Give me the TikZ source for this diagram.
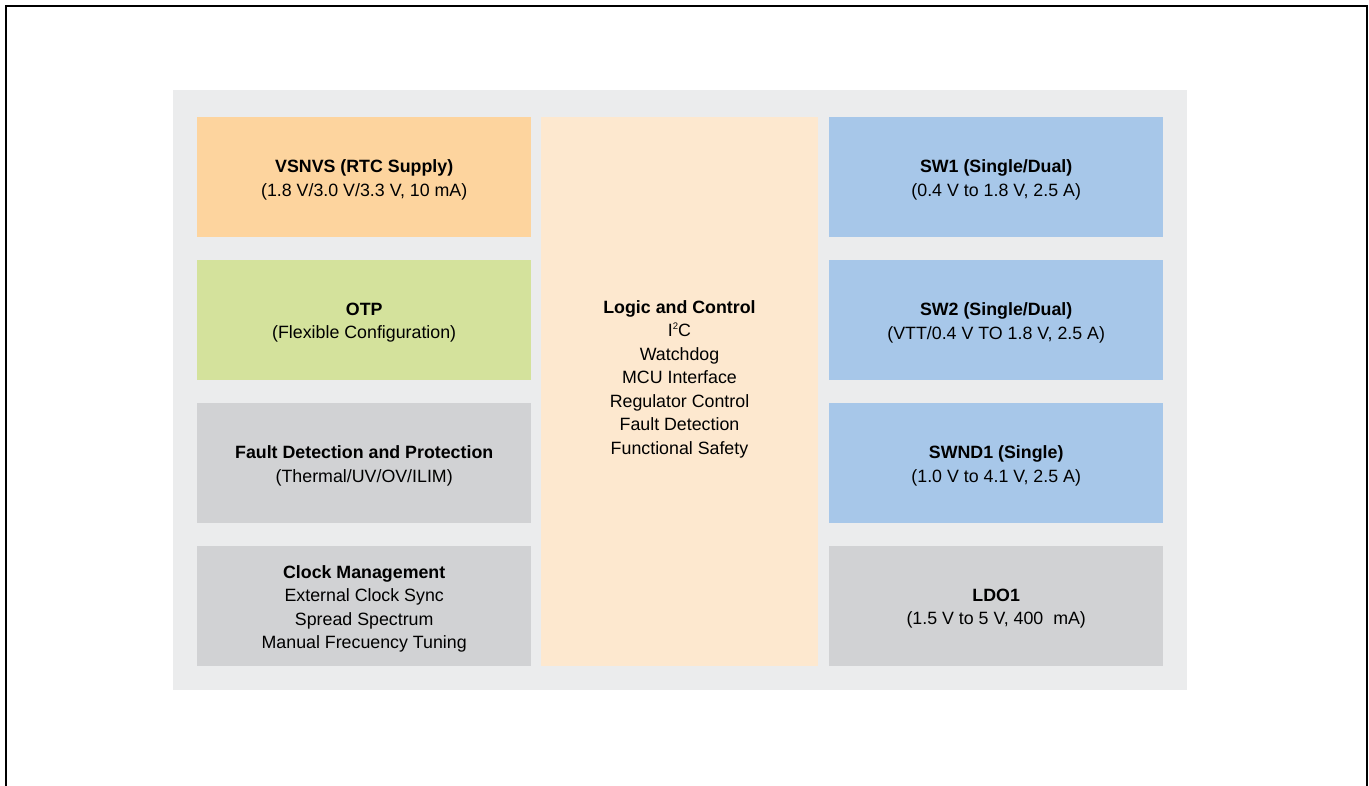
\documentclass[tikz,border=0pt]{standalone}
\usepackage{fontspec}
\setmainfont{Liberation Sans}
\definecolor{bgGray}{HTML}{EBECED}
\definecolor{cOrange}{HTML}{FDD49E}
\definecolor{cGreen}{HTML}{D4E29C}
\definecolor{cGray}{HTML}{D1D2D4}
\definecolor{cBlue}{HTML}{A7C7E9}
\definecolor{cCream}{HTML}{FDE8CF}
\begin{document}
\begin{tikzpicture}[x=1pt,y=-1pt,
  blockbox/.style={draw=none,inner sep=0pt,minimum width=334pt,minimum height=120pt,anchor=north west},
  txt/.style={align=center,inner sep=0pt,yshift=-2.5pt,font=\fontsize{17.8}{23.5}\selectfont,text=black}]
\useasboundingbox (0,0) rectangle (1369,786);
\fill[white] (0,0) rectangle (1369,786);
\draw[line width=2.5pt,black] (6,786) -- (6,6) -- (1367,6) -- (1367,786);
\fill[bgGray] (173,90) rectangle (1187,690);
% left column
\node[blockbox,fill=cOrange] (vsnvs) at (197,117) {};
\node[blockbox,fill=cGreen] (otp) at (197,260) {};
\node[blockbox,fill=cGray] (fault) at (197,403) {};
\node[blockbox,fill=cGray] (clock) at (197,546) {};
% middle
\node[draw=none,inner sep=0pt,minimum width=277pt,minimum height=549pt,anchor=north west,fill=cCream] (logic) at (541,117) {};
% right column
\node[blockbox,fill=cBlue] (sw1) at (829,117) {};
\node[blockbox,fill=cBlue] (sw2) at (829,260) {};
\node[blockbox,fill=cBlue] (swnd) at (829,403) {};
\node[blockbox,fill=cGray] (ldo) at (829,546) {};
% texts
\node[txt] (tvsnvs) at (vsnvs.center) {\textbf{VSNVS (RTC Supply)}\\(1.8 V/3.0 V/3.3 V, 10 mA)};
\node[txt] (totp) at (otp.center) {\textbf{OTP}\\(Flexible Configuration)};
\node[txt] (tfault) at (fault.center) {\textbf{Fault Detection and Protection}\\(Thermal/UV/OV/ILIM)};
\node[txt] (tclock) at (clock.center) {\textbf{Clock Management}\\External Clock Sync\\Spread Spectrum\\Manual Frecuency Tuning};
\node[txt] (tlogic) at (679.5,376.5) {\textbf{Logic and Control}\\I\raisebox{0.42em}{\fontsize{9.5}{9.5}\selectfont 2}C\\Watchdog\\MCU Interface\\Regulator Control\\Fault Detection\\Functional Safety};
\node[txt] (tsw1) at (sw1.center) {\textbf{SW1 (Single/Dual)}\\(0.4 V to 1.8 V, 2.5 A)};
\node[txt] (tsw2) at (sw2.center) {\textbf{SW2 (Single/Dual)}\\(VTT/0.4 V TO 1.8 V, 2.5 A)};
\node[txt] (tswnd) at (swnd.center) {\textbf{SWND1 (Single)}\\(1.0 V to 4.1 V, 2.5 A)};
\node[txt] (tldo) at (ldo.center) {\textbf{LDO1}\\(1.5 V to 5 V, 400\ \ mA)};
\end{tikzpicture}
\end{document}
